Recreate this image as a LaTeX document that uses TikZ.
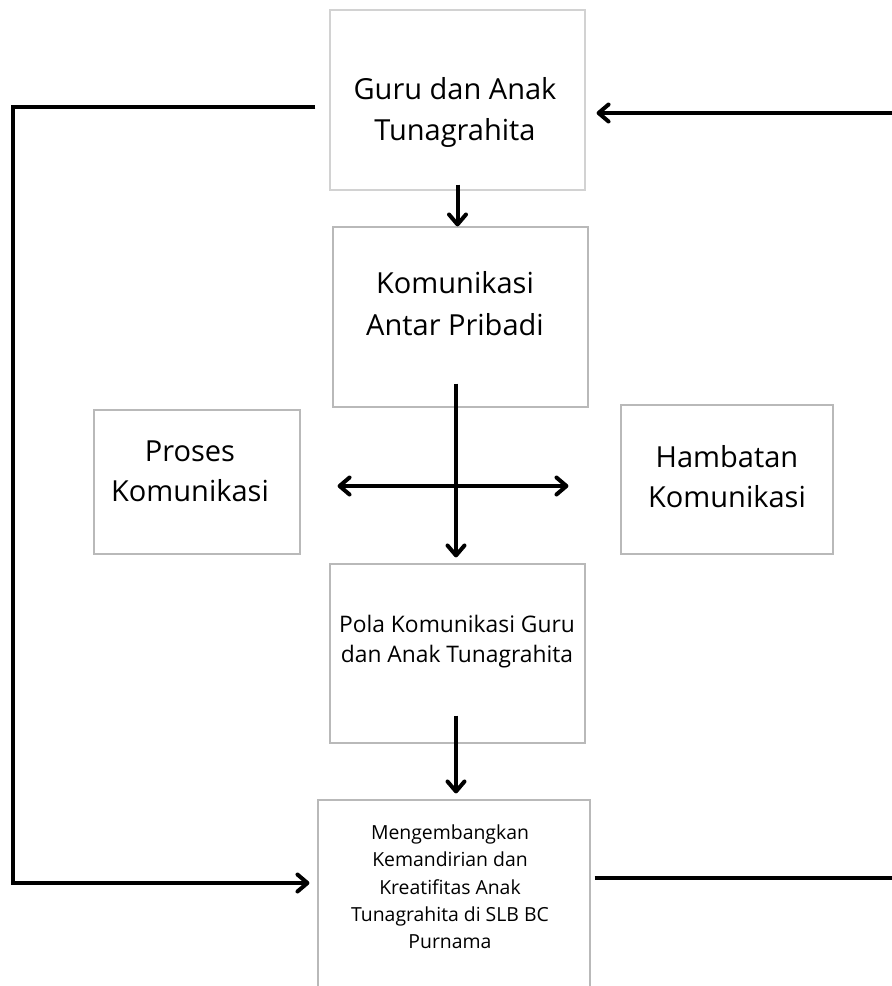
\documentclass[tikz,border=0pt]{standalone}
\usepackage{fontspec}
\setmainfont{Open Sans}
\usepackage{tikz}
\usetikzlibrary{
  positioning,
  arrows.meta,
  calc,
  }

\begin{document}
\begin{tikzpicture}[x=1pt, y=-1pt,
    kotak/.style={draw=gray!55, line width=1.1pt, rectangle, inner sep=0pt},
    teks/.style={align=center, inner sep=0pt},
    ujung/.tip={Straight Barb[length=10pt,width=17pt,line cap=round,line join=round]},
    panah/.style={line width=4pt, -ujung},
    panahdua/.style={line width=4pt, ujung-ujung}]
                \useasboundingbox (0,0) rectangle (892,986);
                \clip (0,0) rectangle (892,986);
                \node[kotak, draw=gray!35, minimum width=255pt, minimum height=180pt] (n1) at (457.5,100) {};
                \node[kotak, minimum width=255pt, minimum height=180pt] (n2) at (460.5,317) {};
                \node[kotak, minimum width=206pt, minimum height=144pt] (n3) at (197,482) {};
                \node[kotak, minimum width=212pt, minimum height=149pt] (n4) at (727,479.5) {};
                \node[kotak, minimum width=255pt, minimum height=179pt] (n5) at (457.5,653.5) {};
                \node[kotak, minimum width=272pt, minimum height=200pt] (n6) at (454,900) {};
                % teks di dalam kotak
                \node[teks, font=\fontsize{29}{41}\selectfont] (t1) at (455,112) {Guru dan Anak\\Tunagrahita};
                \node[teks, font=\fontsize{29}{42}\selectfont] (t2) at (455,304) {Komunikasi\\Antar Pribadi};
                \node[teks, font=\fontsize{29}{40}\selectfont] (t3) at (190,471) {Proses\\Komunikasi};
                \node[teks, font=\fontsize{29}{40}\selectfont] (t4) at (727,477) {Hambatan\\Komunikasi};
                \node[teks, font=\fontsize{22.8}{30}\selectfont] (t5) at (457,642) {Pola Komunikasi Guru\\dan Anak Tunagrahita};
                \node[teks, font=\fontsize{19.4}{27.3}\selectfont] (t6) at (450,887) {Mengembangkan\\Kemandirian dan\\Kreatifitas Anak\\Tunagrahita di SLB BC\\Purnama};
                % panah
                \draw[panah] ([yshift=6pt]n1.south) -- (n1.south |- n2.north);
                \draw[panah] ([xshift=-4.5pt,yshift=24pt]n2.south) -- ([xshift=-1.5pt,yshift=6pt]n5.north);
                \draw[panahdua] ([xshift=37pt,yshift=-4pt]n3.east) -- ([xshift=-52pt,yshift=-6.5pt]n4.west);
                \draw[panah] ([xshift=-1.5pt,yshift=28pt]n5.south) -- ([xshift=2pt,yshift=6pt]n6.north);
                \draw[panah] ([xshift=-14pt,yshift=-7pt]n1.west) -- ++(-302,0) |- ([xshift=-8pt,yshift=17pt]n6.west);
                \draw[panah] ([xshift=4pt,yshift=22pt]n6.east) -- ++(310,0) |- ([xshift=11pt,yshift=-13pt]n1.east);
            \end{tikzpicture}
\end{document}
